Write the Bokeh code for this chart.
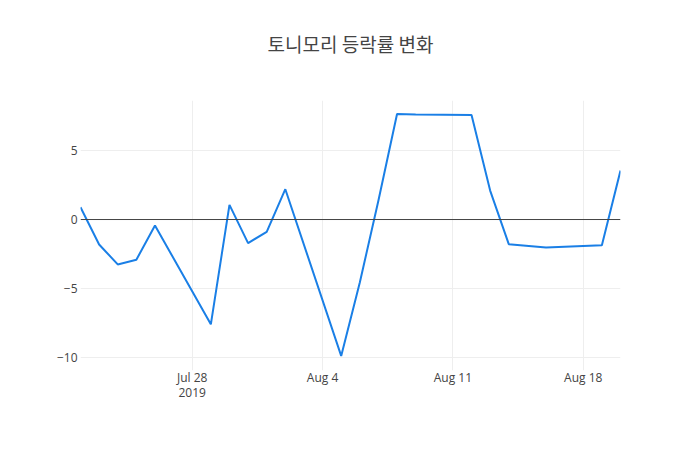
from datetime import datetime
from bokeh.plotting import figure
from bokeh.models import Range1d, FixedTicker, Span, ColumnDataSource
from bokeh.embed import file_html
from bokeh.resources import INLINE

# ---- data ----
title_text = "토니모리 등락률 변화"
dates = ["2019-07-22", "2019-07-23", "2019-07-24", "2019-07-25", "2019-07-26",
         "2019-07-29", "2019-07-30", "2019-07-31", "2019-08-01", "2019-08-02",
         "2019-08-05", "2019-08-06", "2019-08-07", "2019-08-08", "2019-08-09",
         "2019-08-12", "2019-08-13", "2019-08-14", "2019-08-16", "2019-08-19",
         "2019-08-20"]
values = [0.89, -1.81, -3.26, -2.92, -0.43,
          -7.61, 1.06, -1.71, -0.89, 2.20,
          -9.90, -4.57, 1.38, 7.66, 7.63,
          7.59, 2.10, -1.79, -2.03, -1.86,
          3.55]
x_tick_dates = ["2019-07-28", "2019-08-04", "2019-08-11", "2019-08-18"]
x_tick_labels = ["Jul 28\n2019", "Aug 4", "Aug 11", "Aug 18"]
y_ticks = [-10, -5, 0, 5]
y_tick_labels = ["\u221210", "\u22125", "0", "5"]

def ms(s):
    d = datetime.strptime(s, "%Y-%m-%d")
    return (d - datetime(1970, 1, 1)).total_seconds() * 1000.0

xs = [datetime.strptime(d, "%Y-%m-%d") for d in dates]
src = ColumnDataSource(dict(x=xs, y=values))

p = figure(width=684, height=434, x_axis_type="datetime",
           output_backend="svg", toolbar_location=None,
           min_border_left=80, min_border_right=64,
           min_border_top=100, min_border_bottom=64,
           x_range=Range1d(datetime(2019, 7, 22), datetime(2019, 8, 20)),
           y_range=Range1d(-10.96, 8.64))
p.outline_line_color = None
p.background_fill_color = "white"
p.border_fill_color = "white"

# title (a blank second line lifts it higher above the frame)
p.title.text = title_text + "\n\u00a0"
p.title.align = "center"
p.title.text_font = "Noto Sans CJK KR"
p.title.text_font_size = "19px"
p.title.text_font_style = "normal"
p.title.text_color = "#444444"
p.title.standoff = 33

# x axis
xt = [ms(d) for d in x_tick_dates]
p.xaxis.ticker = FixedTicker(ticks=xt)
p.xaxis.major_label_overrides = {t: l for t, l in zip(xt, x_tick_labels)}
p.xaxis.axis_line_color = None
p.xaxis.major_tick_line_color = None
p.xaxis.minor_tick_line_color = None
p.xaxis.major_tick_out = 0
p.xaxis.major_tick_in = 0
p.xaxis.major_label_standoff = -2
p.xaxis.major_label_text_font = "Open Sans"
p.xaxis.major_label_text_font_size = "12px"
p.xaxis.major_label_text_line_height = 0.9
p.xaxis.major_label_text_color = "#444444"

# y axis
p.yaxis.ticker = FixedTicker(ticks=y_ticks)
p.yaxis.major_label_overrides = {t: l for t, l in zip(y_ticks, y_tick_labels)}
p.yaxis.axis_line_color = None
p.yaxis.major_tick_line_color = None
p.yaxis.minor_tick_line_color = None
p.yaxis.major_tick_out = 0
p.yaxis.major_tick_in = 0
p.yaxis.major_label_standoff = 3
p.yaxis.major_label_text_font = "Open Sans"
p.yaxis.major_label_text_font_size = "12px"
p.yaxis.major_label_text_color = "#444444"

p.xgrid.grid_line_color = "#eeeeee"
p.ygrid.grid_line_color = "#eeeeee"
p.xgrid.grid_line_width = 1
p.ygrid.grid_line_width = 1

# zero line
p.add_layout(Span(location=0, dimension="width", line_color="#444444", line_width=1))

p.line("x", "y", source=src, line_color="#1a7fe6", line_width=2)

open("out.html", "w").write(file_html(p, INLINE))
